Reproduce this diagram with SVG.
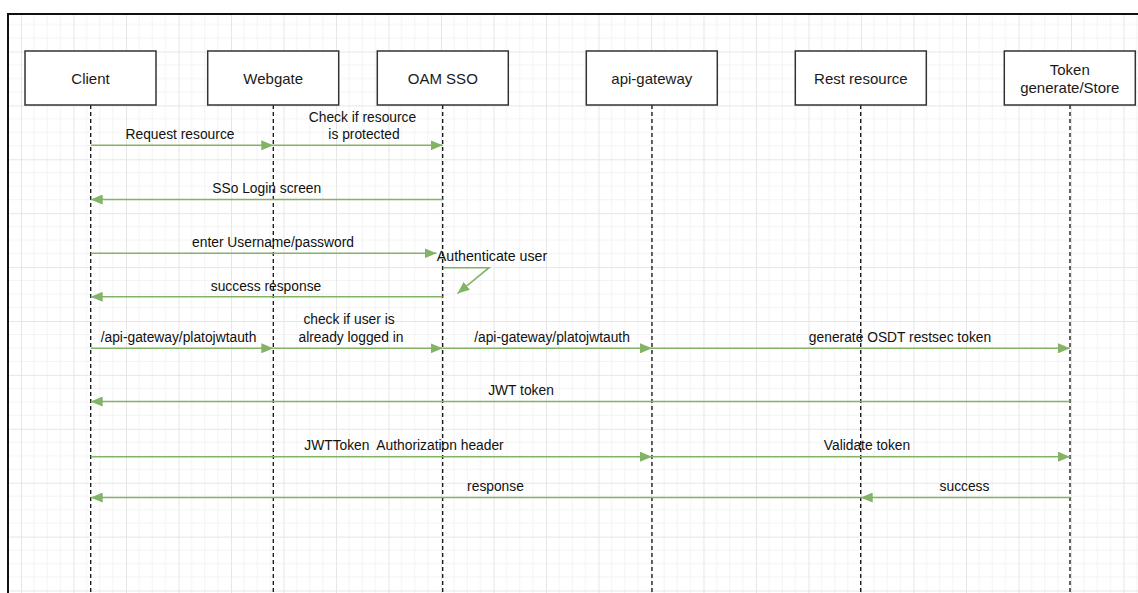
<svg xmlns="http://www.w3.org/2000/svg" width="1138" height="593" viewBox="0 0 1138 593">
<style>
.node rect{fill:#fff;stroke:#333;stroke-width:1.5}
.node text{font-family:"Liberation Sans",Arial,sans-serif;font-size:15px;fill:#1a1a1a;text-anchor:middle}
.life{stroke:#111;stroke-width:1.3;stroke-dasharray:4 3;fill:none}
.msg{stroke:#82b366;stroke-width:1.6;fill:none;marker-end:url(#ah)}
.lbl{font-family:"Liberation Sans",Arial,sans-serif;font-size:13.8px;fill:#111;text-anchor:middle}
</style>
<defs>
<marker id="ah" markerUnits="userSpaceOnUse" markerWidth="12" markerHeight="10" refX="12" refY="5" orient="auto">
<path d="M0,0 L12,5 L0,10 z" fill="#82b366"/>
</marker>
<pattern id="grid" x="21" y="51.5" width="52.5" height="53.9" patternUnits="userSpaceOnUse">
<path d="M13.1,0V53.9M26.25,0V53.9M39.4,0V53.9M0,13.5H52.5M0,26.95H52.5M0,40.4H52.5" stroke="#f3f3f3" stroke-width="1"/>
<path d="M0.5,0V53.9M0,0.5H52.5" stroke="#e6e6e6" stroke-width="1"/>
</pattern>
</defs>
<rect width="1138" height="593" fill="#fff"/>
<rect x="8" y="14" width="1140" height="600" fill="url(#grid)" stroke="#111" stroke-width="2"/>

<g id="lifelines">
<path class="life" d="M90.7,105V593M273.3,105V593M442.7,105V593M652,105V593M860.7,105V593M1070,105V593"/>
</g>

<g id="node-client" class="node"><rect x="25" y="51" width="131" height="54"/><text x="90.5" y="83.5">Client</text></g>
<g id="node-webgate" class="node"><rect x="207.7" y="51" width="131" height="54"/><text x="273.2" y="83.5">Webgate</text></g>
<g id="node-oam" class="node"><rect x="377.3" y="51" width="131" height="54"/><text x="442.8" y="83.5">OAM SSO</text></g>
<g id="node-apigw" class="node"><rect x="586.3" y="51" width="131" height="54"/><text x="651.8" y="83.5">api-gateway</text></g>
<g id="node-rest" class="node"><rect x="795.3" y="51" width="131" height="54"/><text x="860.8" y="83.5">Rest resource</text></g>
<g id="node-token" class="node"><rect x="1004.3" y="51" width="131" height="54"/><text x="1069.8" y="74.5">Token</text><text x="1069.8" y="93">generate/Store</text></g>

<g id="connectors">
<path class="msg" d="M90.7,145.3H273.3"/>
<path class="msg" d="M273.3,145.3H442.7"/>
<path class="msg" d="M442.7,199.5H90.7"/>
<path class="msg" d="M90.7,253.3H436.5"/>
<path class="msg" d="M443,267.7H489L457.5,293.5"/>
<path class="msg" d="M442.7,296.8H90.7"/>
<path class="msg" d="M90.7,348.3H273.3"/>
<path class="msg" d="M273.3,348.3H442.7"/>
<path class="msg" d="M442.7,348.3H652"/>
<path class="msg" d="M652,348.3H1070"/>
<path class="msg" d="M1070,401.5H90.7"/>
<path class="msg" d="M90.7,456.7H652"/>
<path class="msg" d="M652,456.7H1070"/>
<path class="msg" d="M1070,497.5H860.7"/>
<path class="msg" d="M860.7,497.5H90.7"/>
</g>

<g id="labels">
<text class="lbl" x="180" y="139">Request resource</text>
<text class="lbl" x="362.5" y="121.5">Check if resource</text>
<text class="lbl" x="364" y="139">is protected</text>
<text class="lbl" x="266.7" y="193">SSo Login screen</text>
<text class="lbl" x="273" y="247">enter Username/password</text>
<text class="lbl" x="492" y="260.5" style="font-size:14.2px">Authenticate user</text>
<text class="lbl" x="266" y="290.5">success response</text>
<text class="lbl" x="178.5" y="341.5">/api-gateway/platojwtauth</text>
<text class="lbl" x="349" y="324">check if user is</text>
<text class="lbl" x="351" y="341.5">already logged in</text>
<text class="lbl" x="552" y="341.5">/api-gateway/platojwtauth</text>
<text class="lbl" x="900" y="342">generate OSDT restsec token</text>
<text class="lbl" x="521" y="395">JWT token</text>
<text class="lbl" x="404" y="450" xml:space="preserve">JWTToken  Authorization header</text>
<text class="lbl" x="867" y="450">Validate token</text>
<text class="lbl" x="495.5" y="490.5">response</text>
<text class="lbl" x="964.5" y="490.5">success</text>
</g>
</svg>
